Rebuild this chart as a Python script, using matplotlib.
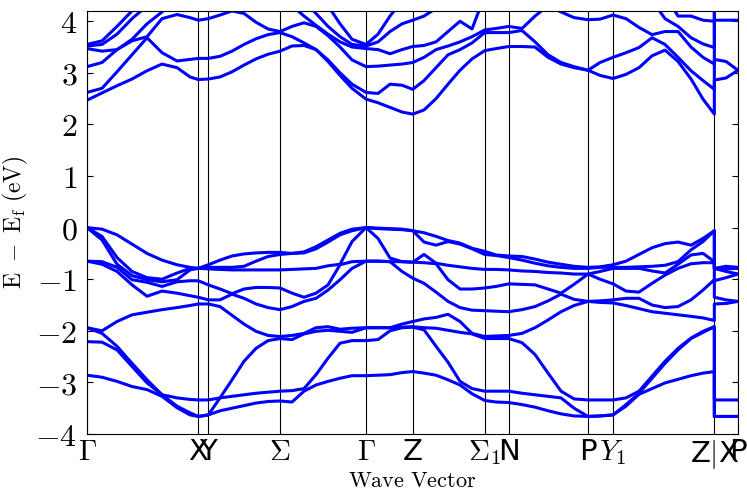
import numpy as np
import matplotlib
matplotlib.use('Agg')
import matplotlib.pyplot as plt

plt.rcParams['mathtext.fontset'] = 'cm'

# high symmetry points along the path
sym_labels = [r'$\Gamma$', 'X', 'Y', r'$\Sigma$', r'$\Gamma$', 'Z', r'$\Sigma_1$', 'N',
              'P', r'$Y_1$', r'Z$|$X', 'P']
sym_k = [0.0, 1.113, 1.213, 1.93, 2.79, 3.257, 3.977, 4.217, 5.01, 5.26, 6.273, 6.51]

# k samples per segment (Z|X appears twice -> discontinuity)
k_gx = [0.0, 0.15, 0.30, 0.45, 0.60, 0.75, 0.90, 1.03, 1.113]
k_xy = [1.213]
k_ys = [1.33, 1.45, 1.57, 1.69, 1.81, 1.93]
k_sg = [2.05, 2.17, 2.29, 2.41, 2.53, 2.65, 2.79]
k_gz = [2.91, 3.03, 3.15, 3.257]
k_zs1 = [3.37, 3.49, 3.61, 3.73, 3.85, 3.977]
k_s1n = [4.09, 4.217]
k_np = [4.35, 4.48, 4.61, 4.74, 4.87, 5.01]
k_py1 = [5.13, 5.26]
k_y1z = [5.39, 5.52, 5.65, 5.78, 5.91, 6.04, 6.16, 6.273]
k_xp = [6.273, 6.39, 6.51]

# valence band energies (eV), one row per k sample
val_gx = [[0, 0, 0, -0.65, -0.65, -1.94, -1.94, -2.21, -2.86],
          [-0.03, -0.17, -0.24, -0.66, -0.71, -2.0, -2.05, -2.22, -2.90],
          [-0.14, -0.58, -0.71, -0.77, -0.85, -1.82, -2.30, -2.37, -2.98],
          [-0.32, -0.85, -0.93, -1.01, -1.11, -1.69, -2.63, -2.69, -3.08],
          [-0.50, -0.97, -1.01, -1.06, -1.33, -1.64, -2.95, -3.01, -3.14],
          [-0.63, -1.00, -1.05, -1.14, -1.23, -1.59, -3.24, -3.24, -3.27],
          [-0.72, -0.88, -1.01, -1.05, -1.27, -1.55, -3.30, -3.46, -3.49],
          [-0.77, -0.79, -0.82, -1.03, -1.32, -1.51, -3.33, -3.59, -3.63],
          [-0.79, -0.79, -0.79, -1.03, -1.35, -1.48, -3.34, -3.66, -3.66]]
val_xy = [[-0.72, -0.77, -0.80, -1.11, -1.40, -1.48, -3.34, -3.63, -3.63]]
val_ys = [[-0.63, -0.77, -0.81, -1.19, -1.40, -1.53, -3.30, -3.55, -3.30],
          [-0.55, -0.77, -0.82, -1.28, -1.29, -1.70, -2.95, -3.50, -3.27],
          [-0.51, -0.75, -0.82, -1.19, -1.37, -1.87, -2.59, -3.45, -3.24],
          [-0.49, -0.65, -0.82, -1.16, -1.48, -2.01, -2.34, -3.40, -3.21],
          [-0.48, -0.56, -0.82, -1.16, -1.55, -2.09, -2.19, -3.37, -3.19],
          [-0.48, -0.52, -0.82, -1.17, -1.59, -2.11, -2.15, -3.36, -3.17]]
val_sg = [[-0.50, -0.50, -0.81, -1.27, -1.53, -2.09, -2.17, -3.38, -3.16],
          [-0.47, -0.49, -0.80, -1.35, -1.43, -2.06, -2.05, -3.17, -3.12],
          [-0.37, -0.41, -0.79, -1.27, -1.37, -2.01, -1.94, -2.85, -3.05],
          [-0.24, -0.28, -0.74, -1.11, -1.21, -1.99, -1.92, -2.53, -2.98],
          [-0.11, -0.14, -0.71, -0.72, -1.01, -1.97, -2.01, -2.24, -2.92],
          [-0.03, -0.06, -0.27, -0.66, -0.79, -1.95, -2.03, -2.19, -2.87],
          [0, 0, 0, -0.65, -0.65, -1.94, -1.94, -2.19, -2.87]]
val_gz = [[-0.01, -0.02, -0.21, -0.65, -0.65, -1.94, -1.94, -2.17, -2.86],
          [-0.02, -0.03, -0.59, -0.66, -0.66, -1.94, -1.94, -2.00, -2.85],
          [-0.03, -0.04, -0.85, -0.66, -0.66, -1.94, -1.93, -1.87, -2.81],
          [-0.06, -0.06, -0.98, -0.67, -0.67, -1.93, -1.92, -1.82, -2.79]]
val_zs1 = [[-0.10, -0.28, -0.52, -0.68, -1.08, -1.94, -1.98, -1.77, -2.82],
           [-0.17, -0.34, -0.69, -0.70, -1.25, -1.95, -2.30, -1.74, -2.86],
           [-0.25, -0.27, -1.01, -0.73, -1.43, -1.99, -2.61, -1.68, -2.95],
           [-0.32, -0.30, -1.19, -0.76, -1.55, -2.03, -2.98, -1.82, -3.05],
           [-0.40, -0.41, -1.19, -0.79, -1.60, -2.06, -3.22, -2.05, -3.12],
           [-0.46, -0.52, -1.17, -0.81, -1.61, -2.11, -3.35, -2.15, -3.17]]
val_s1n = [[-0.53, -0.54, -1.14, -0.81, -1.62, -2.10, -3.38, -2.15, -3.17],
           [-0.55, -0.58, -0.82, -1.09, -1.63, -2.09, -2.15, -3.17, -3.39]]
val_np = [[-0.56, -0.63, -0.84, -1.10, -1.59, -2.05, -2.23, -3.21, -3.43],
          [-0.61, -0.69, -0.85, -1.11, -1.53, -1.94, -2.46, -3.24, -3.48],
          [-0.67, -0.74, -0.87, -1.19, -1.42, -1.79, -2.82, -3.27, -3.55],
          [-0.71, -0.77, -0.88, -1.29, -1.27, -1.63, -3.17, -3.30, -3.61],
          [-0.75, -0.79, -0.90, -1.39, -1.10, -1.51, -3.50, -3.32, -3.65],
          [-0.77, -0.79, -0.90, -0.90, -1.43, -1.43, -3.66, -3.34, -3.66]]
val_py1 = [[-0.77, -0.76, -0.85, -1.00, -1.42, -1.45, -3.34, -3.65, -3.65],
           [-0.72, -0.77, -0.79, -1.09, -1.40, -1.46, -3.34, -3.63, -3.63]]
val_y1z = [[-0.65, -0.77, -0.79, -1.23, -1.51, -1.37, -3.43, -3.46, -3.30],
           [-0.52, -0.76, -0.79, -1.37, -1.57, -1.25, -3.17, -3.21, -3.23],
           [-0.39, -0.75, -0.84, -1.50, -1.63, -1.08, -2.88, -2.92, -3.12],
           [-0.31, -0.73, -0.88, -1.55, -1.66, -0.92, -2.59, -2.63, -3.01],
           [-0.28, -0.71, -0.79, -1.53, -1.69, -0.66, -2.34, -2.37, -2.94],
           [-0.34, -0.70, -0.53, -1.40, -1.72, -0.43, -2.14, -2.15, -2.87],
           [-0.50, -0.68, -0.27, -1.21, -1.75, -0.21, -2.01, -2.03, -2.82],
           [-0.66, -0.68, -0.06, -1.01, -1.80, -0.06, -1.92, -1.92, -2.79]]
val_xp = [[-0.79, -0.79, -0.79, -1.03, -1.35, -1.48, -3.34, -3.66, -3.66],
          [-0.75, -0.80, -0.85, -0.97, -1.40, -1.47, -3.34, -3.66, -3.66],
          [-0.77, -0.79, -0.90, -0.90, -1.43, -1.43, -3.34, -3.66, -3.66]]

# conduction band energies (eV); 4.5 = above the window
con_gx = [[2.47, 2.62, 3.12, 3.47, 3.52, 3.55, 4.5],
          [2.61, 2.70, 3.20, 3.42, 3.55, 3.62, 4.5],
          [2.75, 3.02, 3.45, 3.45, 3.75, 3.90, 4.5],
          [2.88, 3.35, 3.62, 3.65, 4.05, 4.2, 4.5],
          [3.04, 3.68, 3.70, 3.95, 4.3, 4.5, 4.5],
          [3.17, 3.39, 4.05, 4.18, 4.5, 4.5, 4.5],
          [3.10, 3.23, 4.13, 4.5, 4.5, 4.5, 4.5],
          [2.92, 3.26, 4.07, 4.5, 4.5, 4.5, 4.5],
          [2.87, 3.28, 4.02, 4.5, 4.5, 4.5, 4.5]]
con_xy = [[2.88, 3.28, 4.05, 4.5, 4.5, 4.5, 4.5]]
con_ys = [[2.92, 3.32, 4.12, 4.45, 4.5, 4.5, 4.5],
          [3.02, 3.42, 4.2, 4.35, 4.5, 4.5, 4.5],
          [3.15, 3.55, 4.15, 4.3, 4.5, 4.5, 4.5],
          [3.27, 3.66, 3.98, 4.4, 4.5, 4.5, 4.5],
          [3.36, 3.74, 3.85, 4.5, 4.5, 4.5, 4.5],
          [3.42, 3.78, 3.80, 4.5, 4.5, 4.5, 4.5]]
con_sg = [[3.52, 3.70, 3.90, 4.3, 4.5, 4.5, 4.5],
          [3.53, 3.58, 3.97, 4.1, 4.4, 4.5, 4.5],
          [3.45, 3.45, 3.90, 3.92, 4.15, 4.5, 4.5],
          [3.22, 3.25, 3.72, 3.75, 3.90, 4.3, 4.5],
          [2.95, 3.00, 3.50, 3.60, 3.70, 3.95, 4.5],
          [2.70, 2.78, 3.25, 3.50, 3.55, 3.65, 4.5],
          [2.49, 2.62, 3.12, 3.47, 3.52, 3.55, 4.5]]
con_gz = [[2.42, 2.60, 3.13, 3.45, 3.60, 3.75, 4.5],
          [2.33, 2.78, 3.15, 3.37, 3.80, 4.10, 4.5],
          [2.24, 2.76, 3.17, 3.45, 3.95, 4.4, 4.5],
          [2.20, 2.68, 3.20, 3.51, 4.02, 4.5, 4.5]]
con_zs1 = [[2.28, 2.85, 3.30, 3.53, 4.10, 4.5, 4.5],
           [2.50, 3.10, 3.45, 3.60, 4.25, 4.5, 4.5],
           [2.78, 3.35, 3.52, 3.80, 4.5, 4.5, 4.5],
           [3.05, 3.45, 3.60, 4.00, 4.5, 4.5, 4.5],
           [3.27, 3.58, 3.70, 3.85, 4.5, 4.5, 4.5],
           [3.43, 3.78, 3.83, 4.5, 4.5, 4.5, 4.5]]
con_s1n = [[3.47, 3.78, 3.86, 4.5, 4.5, 4.5, 4.5],
           [3.51, 3.78, 3.90, 4.5, 4.5, 4.5, 4.5]]
con_np = [[3.51, 3.82, 3.86, 4.5, 4.5, 4.5, 4.5],
          [3.50, 3.60, 4.10, 4.5, 4.5, 4.5, 4.5],
          [3.35, 3.30, 4.30, 4.5, 4.5, 4.5, 4.5],
          [3.20, 3.17, 4.18, 4.5, 4.5, 4.5, 4.5],
          [3.10, 3.12, 4.07, 4.5, 4.5, 4.5, 4.5],
          [3.05, 3.05, 4.03, 4.5, 4.5, 4.5, 4.5]]
con_py1 = [[2.95, 3.20, 4.04, 4.5, 4.5, 4.5, 4.5],
           [2.89, 3.30, 4.12, 4.5, 4.5, 4.5, 4.5]]
con_y1z = [[2.97, 3.39, 4.05, 4.5, 4.5, 4.5, 4.5],
           [3.10, 3.49, 3.88, 4.3, 4.5, 4.5, 4.5],
           [3.33, 3.68, 3.74, 4.4, 4.5, 4.5, 4.5],
           [3.44, 3.55, 3.80, 4.05, 4.5, 4.5, 4.5],
           [3.22, 3.30, 3.80, 3.90, 4.10, 4.5, 4.5],
           [2.88, 3.04, 3.50, 3.68, 4.10, 4.5, 4.5],
           [2.49, 2.85, 3.30, 3.56, 4.02, 4.5, 4.5],
           [2.20, 2.68, 3.17, 3.49, 4.00, 4.5, 4.5]]
con_xp = [[2.86, 3.26, 4.02, 4.5, 4.5, 4.5, 4.5],
          [2.90, 3.22, 4.02, 4.5, 4.5, 4.5, 4.5],
          [3.05, 3.05, 4.02, 4.5, 4.5, 4.5, 4.5]]

k = np.concatenate([k_gx, k_xy, k_ys, k_sg, k_gz, k_zs1, k_s1n, k_np, k_py1, k_y1z, k_xp])
val = np.vstack([val_gx, val_xy, val_ys, val_sg, val_gz, val_zs1, val_s1n, val_np,
                 val_py1, val_y1z, val_xp])
con = np.vstack([con_gx, con_xy, con_ys, con_sg, con_gz, con_zs1, con_s1n, con_np,
                 con_py1, con_y1z, con_xp])
# band index = energy ordering at each k
val = np.sort(val, axis=1)
con = np.sort(con, axis=1)

fig = plt.figure(figsize=(7.47, 4.96), dpi=100)
ax = fig.add_axes([0.1165, 0.125, 0.8715, 0.853])

for xs in sym_k:
    ax.axvline(xs, color='k', lw=0.8, zorder=1)
for i in range(val.shape[1]):
    ax.plot(k, val[:, i], color='#0000ff', lw=2.2, zorder=2)
for i in range(con.shape[1]):
    ax.plot(k, con[:, i], color='#0000ff', lw=2.2, zorder=2)

ax.set_xlim(sym_k[0], sym_k[-1])
ax.set_ylim(-4, 4.2)
ax.set_xticks(sym_k)
ax.set_xticklabels(sym_labels, fontsize=21)
yt = list(range(-4, 5))
ax.set_yticks(yt)
ax.set_yticklabels(['$%d$' % v for v in yt], fontsize=23)
ax.tick_params(axis='y', direction='in', right=True, length=4, pad=7)
ax.tick_params(axis='x', direction='in', length=0, pad=3)

ax.set_xlabel(r'$\mathrm{Wave\ Vector}$', fontsize=16, labelpad=0)
ax.set_ylabel(r'$\mathrm{E\ -\ E_f\ (eV)}$', fontsize=17, labelpad=4)

fig.savefig('out.png', dpi=100)
